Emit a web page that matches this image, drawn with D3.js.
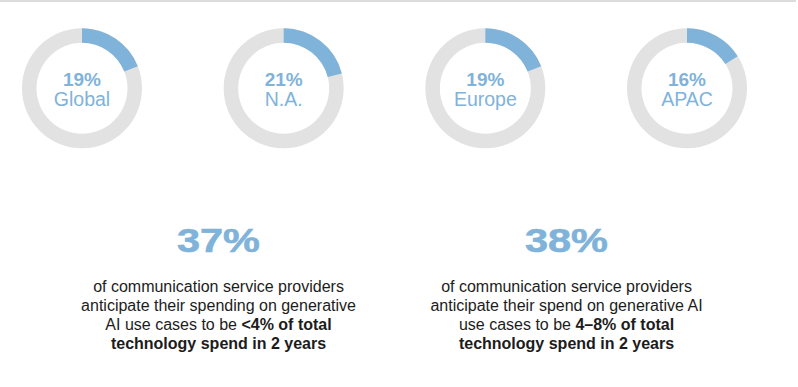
<!DOCTYPE html>
<html>
<head>
<meta charset="utf-8">
<script src="https://cdn.jsdelivr.net/npm/d3@7"></script>
<style>
  body { margin: 0; background: #fff; }
  svg { display: block; font-family: "Liberation Sans", Arial, sans-serif; }
</style>
</head>
<body>
<svg id="chart" width="798" height="387"></svg>
<script>
// donut data
const regions = ["Global", "N.A.", "Europe", "APAC"];
const shares = [19, 21, 19, 16];

// headline stats
const statValues = [37, 38];
const statLines = [
  [[["of communication service providers", false]],
   [["anticipate their spending on generative", false]],
   [["AI use cases to be ", false], ["<4% of total", true]],
   [["technology spend in 2 years", true]]],
  [[["of communication service providers", false]],
   [["anticipate their spend on generative AI", false]],
   [["use cases to be ", false], ["4\u20138% of total", true]],
   [["technology spend in 2 years", true]]]
];

const svg = d3.select("#chart"),
    width = +svg.attr("width");

const blue = "#80b3da",
    track = "#e2e2e2",
    ink = "#1c1c1c";

// thin rule along the top
svg.append("rect")
    .attr("x", 0).attr("y", 0)
    .attr("width", width - 2).attr("height", 2)
    .attr("fill", "#dcdcdc");

const outer = 60, inner = 45.5;

const x = d3.scalePoint()
    .domain(regions)
    .range([82, 687]);

const angle = d3.scaleLinear().domain([0, 100]).range([0, 2 * Math.PI]);

const arc = d3.arc().innerRadius(inner).outerRadius(outer);

const donut = svg.selectAll(".donut")
    .data(regions.map((r, i) => ({ region: r, share: shares[i] })))
    .enter().append("g")
    .attr("class", "donut")
    .attr("transform", d => "translate(" + x(d.region) + ",88.3)");

donut.append("path")
    .attr("d", arc({ startAngle: 0, endAngle: 2 * Math.PI }))
    .attr("fill", track);

donut.append("path")
    .attr("d", d => arc({ startAngle: 0, endAngle: angle(d.share) }))
    .attr("fill", blue);

donut.append("text")
    .attr("text-anchor", "middle")
    .attr("y", -2.8)
    .attr("font-size", 19)
    .attr("font-weight", "bold")
    .attr("fill", blue)
    .text(d => d.share + "%");

donut.append("text")
    .attr("text-anchor", "middle")
    .attr("y", 17.7)
    .attr("font-size", 19.5)
    .attr("fill", blue)
    .text(d => d.region);

// the two headline stats
const sx = d3.scalePoint().domain([0, 1]).range([218.5, 566.5]);

const stat = svg.selectAll(".stat")
    .data(statValues.map((v, i) => ({ value: v, lines: statLines[i], i: i })))
    .enter().append("g")
    .attr("class", "stat")
    .attr("transform", d => "translate(" + sx(d.i) + ",0)");

stat.append("text")
    .attr("text-anchor", "middle")
    .attr("y", 251.5)
    .attr("font-size", 33)
    .attr("font-weight", "bold")
    .attr("fill", blue)
    .attr("stroke", blue)
    .attr("stroke-width", 0.6)
    .attr("textLength", 83)
    .attr("lengthAdjust", "spacingAndGlyphs")
    .text(d => d.value + "%");

stat.each(function (d) {
  const g = d3.select(this);
  d.lines.forEach((parts, li) => {
    const t = g.append("text")
        .attr("text-anchor", "middle")
        .attr("y", 291.5 + li * 19)
        .attr("font-size", 16)
        .attr("fill", ink);
    parts.forEach(p => {
      t.append("tspan")
          .attr("font-weight", p[1] ? "bold" : "normal")
          .text(p[0]);
    });
  });
});
</script>
</body>
</html>
